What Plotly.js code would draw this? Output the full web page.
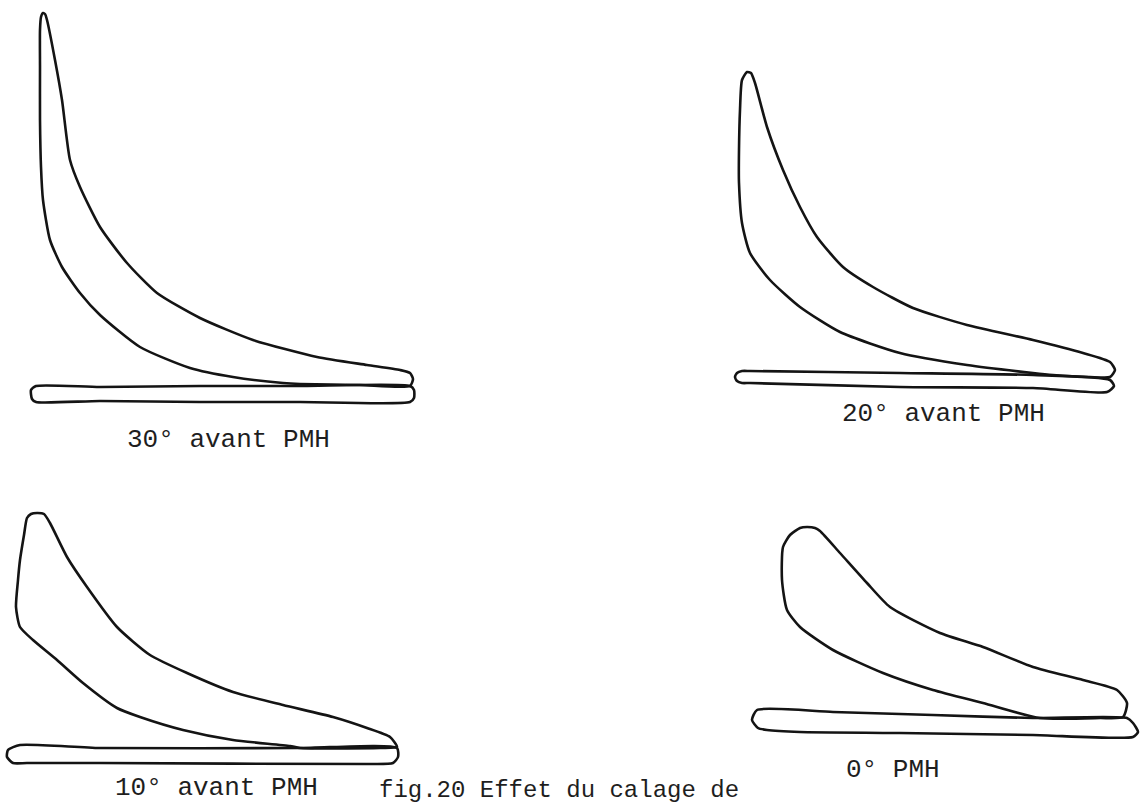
<!DOCTYPE html>
<html><head><meta charset="utf-8">
<script src="https://cdn.plot.ly/plotly-3.0.1.min.js"></script>
<style>html,body{margin:0;padding:0;background:#fff}</style>
</head><body>
<div id="chart" style="width:1142px;height:804px"></div>
<script>
// ---- Data (volume V, pressure p in arbitrary units) ----
// 30° avant PMH
const c30_V = [410,360,300,283,233,190,140,100,80,62,50,43,41,40,40,40,41,43,45,47,55,62,70,80,100,127,157,200,253,317,367,400,410,413,410];
const c30_p = [34,35,36,37,43,52,73,105,127,153,180,220,253,300,353,390,403,407,406,400,360,320,260,233,193,157,127,102,80,63,55,50,47,41,34];
const pump30_V = [36,100,200,300,410,414,414,410,300,200,100,36,32,31,36];
const pump30_p = [34,33,34,34,34,30,22,18,18,18,19,18,21,30,34];
// 20° avant PMH
const c20_V = [353,333,267,200,140,100,70,50,42,39,39,40,42,47,51,55,67,83,100,117,143,173,213,267,333,383,410,415,410,390,353];
const c20_p = [45,47,55,67,88,113,140,167,197,237,270,310,340,348,347,337,293,250,213,183,153,133,112,95,80,67,58,50,43,43,45];
const pump20_V = [42,50,200,333,410,414,407,333,200,50,42,37,35,37,42];
const pump20_p = [49,49,47,45,40,34,28,32,33,37,37,39,43,47,49];
// 10° avant PMH
const c10_V = [300,290,233,183,140,117,83,57,33,20,16,18,20,24,27,31,37,44,50,67,87,117,150,187,233,283,333,367,390,397,380,300];
const c10_p = [56,58,64,74,87,96,121,144,164,177,197,224,244,269,286,290,291,290,281,247,217,177,149,131,112,99,87,76,67,57,56,56];
const pump10_V = [20,100,300,397,398,393,367,100,27,13,7,8,20];
const pump10_p = [59,56,56,56,47,41,40,41,41,41,47,54,59];
// 0° PMH
const c0_V = [340,283,233,183,133,100,87,82,83,90,100,107,115,120,140,167,190,240,283,333,383,417,427,423,400,340];
const c0_p = [86,101,114,131,154,177,194,224,257,269,276,277,276,273,251,221,197,171,157,137,124,114,101,87,86,86];
const pump0_V = [57,133,233,333,427,433,438,433,333,200,100,67,58,52,57];
const pump0_p = [94,92,89,86,86,81,72,67,69,71,72,74,76,84,94];

const labels = ["30° avant PMH", "20° avant PMH", "10° avant PMH", "0° PMH"];
const caption = "fig.20 Effet du calage de";

// ---- Layout (positions in page pixels) ----
const W = 1142, H = 804;
const boxes = [
  {x0:0,   x1:430,  yt:0,   yb:420},
  {x0:700, x1:1142, yt:0,   yb:420},
  {x0:0,   x1:430,  yt:470, yb:804},
  {x0:700, x1:1142, yt:470, yb:804}
];
const series = [
  [c30_V, c30_p, pump30_V, pump30_p],
  [c20_V, c20_p, pump20_V, pump20_p],
  [c10_V, c10_p, pump10_V, pump10_p],
  [c0_V,  c0_p,  pump0_V,  pump0_p]
];
const labelPos = [[125,440],[840,414],[113,788],[844,770]];
const captionPos = [377, 790];

const lineStyle = {color:'#141414', width:2.6, shape:'spline', smoothing:0.6};
const traces = [];
const layout = {
  width: W, height: H, margin:{l:0,r:0,t:0,b:0},
  paper_bgcolor:'#fff', plot_bgcolor:'rgba(0,0,0,0)',
  showlegend:false, annotations:[]
};
series.forEach((s, i) => {
  const n = i === 0 ? '' : String(i+1);
  const xa = 'x' + n, ya = 'y' + n;
  traces.push({x:s[0], y:s[1], xaxis:xa, yaxis:ya, mode:'lines', line:lineStyle, hoverinfo:'skip'});
  traces.push({x:s[2], y:s[3], xaxis:xa, yaxis:ya, mode:'lines', line:lineStyle, hoverinfo:'skip'});
  const b = boxes[i];
  layout['xaxis' + n] = {domain:[b.x0/W, b.x1/W], range:[0, b.x1-b.x0], visible:false, fixedrange:true, anchor:ya};
  layout['yaxis' + n] = {domain:[1-b.yb/H, 1-b.yt/H], range:[0, b.yb-b.yt], visible:false, fixedrange:true, anchor:xa};
  layout.annotations.push({
    text: labels[i], xref:'paper', yref:'paper',
    x: labelPos[i][0]/W, y: 1-labelPos[i][1]/H, xanchor:'left', yanchor:'middle',
    showarrow:false, font:{family:'Liberation Mono, monospace', size:26, color:'#1e1e1e'}
  });
});
layout.annotations.push({
  text: caption, xref:'paper', yref:'paper',
  x: captionPos[0]/W, y: 1-captionPos[1]/H, xanchor:'left', yanchor:'middle',
  showarrow:false, font:{family:'Liberation Mono, monospace', size:24, color:'#1e1e1e'}
});
Plotly.newPlot('chart', traces, layout, {staticPlot:true, displayModeBar:false});
</script>
</body></html>
